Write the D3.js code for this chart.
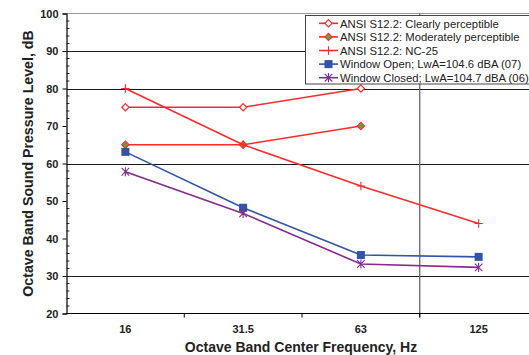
<!DOCTYPE html>
<html>
<head>
<meta charset="utf-8">
<script src="https://cdn.jsdelivr.net/npm/d3@7"></script>
<style>
  html, body { margin: 0; padding: 0; background: #fff; overflow: hidden; }
  svg { display: block; font-family: "Liberation Sans", Arial, sans-serif; }
</style>
</head>
<body>
<svg id="chart" width="529" height="355"></svg>
<script>
// Octave band centre frequencies (Hz)
const categories = ["16", "31.5", "63", "125"];

// Sound pressure levels, dB (null where a series has no value)
const clearlyPerceptible    = [75, 75, 80, null];
const moderatelyPerceptible = [65, 65, 70, null];
const nc25                  = [80, 65, 54, 44];
const windowOpen            = [63.1, 48.2, 35.6, 35.1];
const windowClosed          = [57.8, 46.7, 33.2, 32.3];

const seriesNames = [
  "ANSI S12.2: Clearly perceptible",
  "ANSI S12.2: Moderately perceptible",
  "ANSI S12.2: NC-25",
  "Window Open; LwA=104.6 dBA (07)",
  "Window Closed; LwA=104.7 dBA (06)"
];

const yTicks = [20, 30, 40, 50, 60, 70, 80, 90, 100];
const gridValues = [30, 60, 80, 90];

const series = [
  { name: seriesNames[0], values: clearlyPerceptible,    color: "#ff2a2a", marker: "diamondOpen" },
  { name: seriesNames[1], values: moderatelyPerceptible, color: "#ff2a2a", marker: "diamondFilled", fill: "#5aa83a" },
  { name: seriesNames[2], values: nc25,                  color: "#ff2a2a", marker: "plus" },
  { name: seriesNames[3], values: windowOpen,            color: "#3353a4", marker: "square" },
  { name: seriesNames[4], values: windowClosed,          color: "#862a8c", marker: "star" }
];

const svg = d3.select("#chart");
const plotLeft = 66.5, plotRight = 537.5, plotTop = 13.5, plotBottom = 313.5;

const x = d3.scaleBand().domain(categories).range([plotLeft, plotRight]).padding(0);
const y = d3.scaleLinear().domain([20, 100]).range([plotBottom, plotTop]);
const cx = c => x(c) + x.bandwidth() / 2;

// plot top border
svg.append("line")
  .attr("x1", plotLeft).attr("x2", 529).attr("y1", y(100)).attr("y2", y(100))
  .attr("stroke", "#9a9a9a").attr("stroke-width", 1);

// horizontal grid lines
svg.append("g").selectAll("line").data(gridValues).join("line")
  .attr("x1", plotLeft).attr("x2", 529)
  .attr("y1", d => Math.round(y(d)) + 0.5).attr("y2", d => Math.round(y(d)) + 0.5)
  .attr("stroke", "#1a1a1a").attr("stroke-width", 1);

// vertical grid line between the 63 and 125 Hz bands
svg.append("line")
  .attr("x1", x("125")).attr("x2", x("125"))
  .attr("y1", plotTop).attr("y2", plotBottom + 4)
  .attr("stroke", "#666").attr("stroke-width", 1.3);

// y axis
const yAxis = d3.axisLeft(y).tickValues(yTicks).tickSize(4).tickPadding(4).tickFormat(d3.format("d"));
const gy = svg.append("g").attr("transform", `translate(${plotLeft},0)`).call(yAxis);
gy.select(".domain").attr("stroke", "#000").attr("stroke-width", 1.2);
gy.selectAll(".tick line").attr("stroke", "#000");
gy.selectAll("text").attr("font-size", 11).attr("font-weight", "bold").attr("fill", "#222")
  .attr("font-family", "'Liberation Sans', Arial, sans-serif");

// minor y ticks, pointing inward every 2 dB
const minor = d3.range(20, 100, 2).filter(v => v % 10 !== 0);
svg.append("g").selectAll("line").data(minor).join("line")
  .attr("x1", plotLeft).attr("x2", plotLeft + 3)
  .attr("y1", d => y(d)).attr("y2", d => y(d))
  .attr("stroke", "#000").attr("stroke-width", 0.8);

// x axis
svg.append("line")
  .attr("x1", plotLeft).attr("x2", 529).attr("y1", plotBottom).attr("y2", plotBottom)
  .attr("stroke", "#000").attr("stroke-width", 1.2);
svg.append("g").selectAll("line").data(categories.slice(1)).join("line")
  .attr("x1", d => x(d)).attr("x2", d => x(d))
  .attr("y1", plotBottom).attr("y2", plotBottom + 4)
  .attr("stroke", "#000").attr("stroke-width", 1);
svg.append("g").selectAll("text").data(categories).join("text")
  .attr("x", d => cx(d)).attr("y", 333)
  .attr("text-anchor", "middle").attr("font-size", 11).attr("font-weight", "bold").attr("fill", "#222")
  .text(d => d);

// axis titles
svg.append("text")
  .attr("x", 301).attr("y", 352)
  .attr("text-anchor", "middle").attr("font-size", 14).attr("font-weight", "bold").attr("fill", "#222")
  .text("Octave Band Center Frequency, Hz");
svg.append("text")
  .attr("transform", "translate(33,163.5) rotate(-90)")
  .attr("text-anchor", "middle").attr("font-size", 14.2).attr("font-weight", "bold").attr("fill", "#222")
  .text("Octave Band Sound Pressure Level, dB");

// marker drawing
function drawMarker(g, s, px, py, scale) {
  const k = scale || 1;
  if (s.marker === "diamondOpen" || s.marker === "diamondFilled") {
    const r = 3.6 * k;
    g.append("path")
      .attr("d", `M${px},${py - r}L${px + r},${py}L${px},${py + r}L${px - r},${py}Z`)
      .attr("fill", s.marker === "diamondOpen" ? "#fff" : s.fill)
      .attr("stroke", s.color).attr("stroke-width", 1.2);
  } else if (s.marker === "plus") {
    const r = 4.2 * k;
    g.append("path")
      .attr("d", `M${px - r},${py}H${px + r}M${px},${py - r}V${py + r}`)
      .attr("stroke", s.color).attr("stroke-width", 1.1).attr("fill", "none");
  } else if (s.marker === "square") {
    const r = 4 * k;
    g.append("rect")
      .attr("x", px - r).attr("y", py - r).attr("width", 2 * r).attr("height", 2 * r)
      .attr("fill", s.color);
  } else if (s.marker === "star") {
    const r = 3.8 * k;
    g.append("path")
      .attr("d", `M${px - r},${py - r}L${px + r},${py + r}M${px - r},${py + r}L${px + r},${py - r}M${px},${py - r - 0.8}V${py + r + 0.8}`)
      .attr("stroke", s.color).attr("stroke-width", 1.1).attr("fill", "none");
  }
}

// series lines and markers
const line = d3.line()
  .defined(d => d.v !== null)
  .x(d => cx(d.c)).y(d => y(d.v));

series.forEach(s => {
  const pts = categories.map((c, i) => ({ c, v: s.values[i] }));
  const g = svg.append("g");
  g.append("path").datum(pts)
    .attr("d", line)
    .attr("fill", "none").attr("stroke", s.color).attr("stroke-width", 1.6);
  pts.filter(p => p.v !== null).forEach(p => drawMarker(g, s, cx(p.c), y(p.v)));
});

// legend
const lg = svg.append("g");
lg.append("rect")
  .attr("x", 305.5).attr("y", 15.5).attr("width", 240).attr("height", 68.5)
  .attr("fill", "#fff").attr("stroke", "#444").attr("stroke-width", 1);
series.forEach((s, i) => {
  const ly = 23.3 + i * 13.6;
  lg.append("line")
    .attr("x1", 319).attr("x2", 338).attr("y1", ly).attr("y2", ly)
    .attr("stroke", s.color).attr("stroke-width", 1.6);
  drawMarker(lg, s, 328.5, ly, 1);
  lg.append("text")
    .attr("x", 340).attr("y", ly + 4.2)
    .attr("font-size", 11.3).attr("fill", "#222")
    .text(s.name);
});
</script>
</body>
</html>
